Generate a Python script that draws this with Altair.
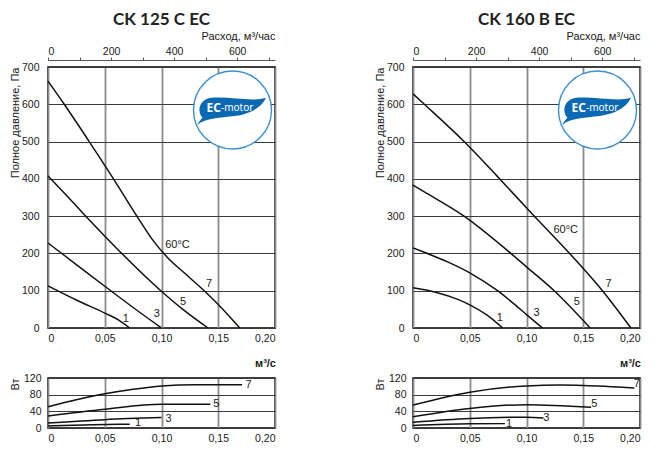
import altair as alt
import pandas as pd

# ---------------- CK 125 C EC : total pressure (Pa) vs airflow (m3/s) ----------------
L_P1_Q = [0, 0.025, 0.05, 0.062, 0.072]
L_P1_V = [113, 75, 40, 22, 0]
L_P3_Q = [0, 0.025, 0.05, 0.075, 0.10]
L_P3_V = [228, 170, 112, 55, 0]
L_P5_Q = [0, 0.0143, 0.0333, 0.065, 0.0994, 0.118, 0.141]
L_P5_V = [408, 362, 300, 200, 100, 52, 0]
L_P7_Q = [0, 0.0143, 0.0363, 0.0577, 0.0783, 0.092, 0.105, 0.12, 0.1376, 0.15, 0.169]
L_P7_V = [662, 600, 500, 400, 300, 237, 190, 148, 100, 63, 0]

# CK 125 C EC : power input (W)
L_W1_Q = [0, 0.04, 0.072]
L_W1_V = [5, 8, 9]
L_W3_Q = [0, 0.05, 0.10]
L_W3_V = [12, 20, 25]
L_W5_Q = [0, 0.05, 0.10, 0.143]
L_W5_V = [29, 45, 57, 57]
L_W7_Q = [0, 0.025, 0.05, 0.075, 0.10, 0.13, 0.171]
L_W7_V = [51, 68, 82, 93, 101, 104, 104]

L_PLBL_T = ["1", "3", "5", "7", "60°C"]
L_PLBL_Q = [0.0685, 0.0959, 0.119, 0.142, 0.1141]
L_PLBL_V = [25, 38, 70, 117, 222]
L_WLBL_T = ["1", "3", "5", "7"]
L_WLBL_Q = [0.0767, 0.1035, 0.1456, 0.174]
L_WLBL_V = [12, 22, 57, 103]

# ---------------- CK 160 B EC ----------------
R_P1_Q = [0, 0.02, 0.04, 0.05, 0.065, 0.079]
R_P1_V = [108, 96, 76, 62, 35, 0]
R_P3_Q = [0, 0.01, 0.03, 0.05, 0.0745, 0.09, 0.10, 0.114]
R_P3_V = [215, 203, 178, 148, 100, 62, 36, 0]
R_P5_Q = [0, 0.01, 0.045, 0.0862, 0.10, 0.1244, 0.15, 0.156]
R_P5_V = [383, 365, 300, 200, 164, 100, 20, 0]
R_P7_Q = [0, 0.01, 0.045, 0.0745, 0.1038, 0.138, 0.168, 0.192]
R_P7_V = [628, 600, 500, 406, 310, 200, 96, 0]

R_W1_Q = [0, 0.05, 0.081]
R_W1_V = [6, 10, 10.5]
R_W3_Q = [0, 0.05, 0.10, 0.115]
R_W3_V = [14, 23, 26, 24]
R_W5_Q = [0, 0.05, 0.10, 0.157]
R_W5_V = [27, 47, 56, 50]
R_W7_Q = [0, 0.05, 0.10, 0.13, 0.15, 0.195]
R_W7_V = [55, 86, 101, 103, 102, 96]

R_PLBL_T = ["1", "3", "5", "7", "60°C"]
R_PLBL_Q = [0.0765, 0.1088, 0.1444, 0.1722, 0.1346]
R_PLBL_V = [27, 41, 70, 117, 262]
R_WLBL_T = ["1", "3", "5", "7"]
R_WLBL_Q = [0.082, 0.1148, 0.157, 0.1945]
R_WLBL_V = [10.5, 23, 57, 105]

# ticks
X_TICKS = [0, 0.05, 0.10, 0.15, 0.20]
P_TICKS = [0, 100, 200, 300, 400, 500, 600, 700]
W_TICKS = [0, 40, 80, 120]
FLOW_H_TICKS = [0, 100, 200, 300, 400, 500, 600, 700]
FLOW_UNIT = "м³/с"

FONT = "Liberation Sans"
TXT = "#1a1a1a"
VGRID = "#8c8c8c"
HGRID = "#3a3a3a"
BLUE = "#0b69b3"
BLUE_LIGHT = "#3d8fd4"
XLBL = "datum.value == 0 ? '0' : replace(format(datum.value, '.2f'), '.', ',')"
LEAF = ("M -0.95 0.42 C -0.9 0.34 -0.85 0.28 -0.8 0.22 C -0.97 0.02 -0.88 -0.3 -0.55 -0.34 "
        "C 0 -0.38 0.6 -0.22 0.98 -0.34 C 0.85 -0.05 0.5 0.12 0.1 0.17 C -0.3 0.22 -0.7 0.22 -0.95 0.42 Z")

W_MAIN, H_MAIN = 227, 261


def to_df(series):
    rows = []
    for name, qs, vs in series:
        for q, v in zip(qs, vs):
            rows.append({"s": name, "q": q, "v": v})
    return pd.DataFrame(rows)


def logo_layers():
    one = pd.DataFrame({"k": [0]})
    circ = alt.Chart(one).mark_circle(size=6084, color="white", opacity=1,
                                      stroke=BLUE_LIGHT, strokeWidth=1.4).encode(
        x=alt.value(184.5), y=alt.value(43))
    leaf = alt.Chart(one).mark_point(shape=LEAF, size=5100, filled=True, color=BLUE,
                                     opacity=1).encode(x=alt.value(183), y=alt.value(43))
    ec = alt.Chart(one).mark_text(text="EC", font="Noto Sans", fontWeight="bold", fontSize=12,
                                  color="white", align="right", baseline="middle").encode(
        x=alt.value(173), y=alt.value(40.5))
    motor = alt.Chart(one).mark_text(text="-motor", font="Noto Sans", fontSize=10,
                                     color="white", align="left", baseline="middle").encode(
        x=alt.value(173), y=alt.value(40.5))
    return [circ, leaf, ec, motor]


def pressure_chart(title, series, lt, lq, lv):
    xs = alt.Scale(domain=[0, 0.2], nice=False)
    ys = alt.Scale(domain=[0, 700], nice=False)
    xax = alt.Axis(values=X_TICKS, labelExpr=XLBL, ticks=False, domain=False, grid=True,
                   gridColor=VGRID, gridWidth=1.8, labelPadding=5, labelOverlap=False)
    yax = alt.Axis(values=P_TICKS, ticks=False, domain=False, grid=True, gridColor=HGRID,
                   gridWidth=1, labelPadding=9, labelOverlap=False,
                   titleAnchor="end", titlePadding=1)
    X = alt.X("q:Q", scale=xs, axis=xax, title=None)
    Y = alt.Y("v:Q", scale=ys, axis=yax, title="Полное давление, Па")
    lines = alt.Chart(to_df(series)).mark_line(color="#111", strokeWidth=1.5,
                                               interpolate="monotone").encode(
        x=X, y=Y, detail="s:N")
    labels = alt.Chart(pd.DataFrame({"t": lt, "q": lq, "v": lv})).mark_text(
        font=FONT, fontSize=11, color=TXT).encode(x=X, y=Y, text="t:N")
    unit = alt.Chart(pd.DataFrame({"k": [0]})).mark_text(
        text=FLOW_UNIT, font=FONT, fontSize=11, fontWeight="bold", color=TXT,
        align="right", baseline="middle").encode(
        x=alt.value(W_MAIN + 1), y=alt.value(H_MAIN + 36))
    inner = alt.layer(lines, labels, unit, *logo_layers())
    top = alt.Chart(pd.DataFrame({"h": [0]})).mark_point(opacity=0).encode(
        x=alt.X("h:Q", scale=alt.Scale(domain=[0, 720], nice=False), title="Расход, м³/час",
                axis=alt.Axis(orient="top", values=FLOW_H_TICKS,
                              labelExpr="datum.value % 200 == 0 ? datum.label : ''",
                              labelOverlap=False,
                              titleAnchor="end", offset=7, tickSize=3, labelPadding=1,
                              domainColor="#555", tickColor="#555", grid=False,
                              titlePadding=5)))
    return alt.layer(inner, top).resolve_scale(x="independent").properties(
        width=W_MAIN, height=H_MAIN,
        title=alt.Title(title, font="Lato", fontSize=17, fontWeight="bold", color="#222",
                        anchor="middle", frame="group", offset=1))


def power_chart(series, lt, lq, lv):
    xs = alt.Scale(domain=[0, 0.2], nice=False)
    ys = alt.Scale(domain=[0, 120], nice=False)
    xax = alt.Axis(values=X_TICKS, labelExpr=XLBL, ticks=False, domain=False, grid=True,
                   gridColor=VGRID, gridWidth=1.8, labelPadding=5, labelOverlap=False)
    yax = alt.Axis(values=W_TICKS, ticks=False, domain=False, grid=True, gridColor=HGRID,
                   gridWidth=1, labelPadding=7, labelOverlap=False,
                   titleAnchor="end", titlePadding=3)
    X = alt.X("q:Q", scale=xs, axis=xax, title=None)
    Y = alt.Y("v:Q", scale=ys, axis=yax, title="Вт")
    lines = alt.Chart(to_df(series)).mark_line(color="#111", strokeWidth=1.5,
                                               interpolate="monotone").encode(
        x=X, y=Y, detail="s:N")
    labels = alt.Chart(pd.DataFrame({"t": lt, "q": lq, "v": lv})).mark_text(
        font=FONT, fontSize=11, color=TXT, align="left", baseline="middle").encode(
        x=X, y=Y, text="t:N")
    return alt.layer(lines, labels).properties(width=W_MAIN, height=50)


left_main = pressure_chart("CK 125 C EC",
                           [("1", L_P1_Q, L_P1_V), ("3", L_P3_Q, L_P3_V),
                            ("5", L_P5_Q, L_P5_V), ("7", L_P7_Q, L_P7_V)],
                           L_PLBL_T, L_PLBL_Q, L_PLBL_V)
right_main = pressure_chart("CK 160 B EC",
                            [("1", R_P1_Q, R_P1_V), ("3", R_P3_Q, R_P3_V),
                             ("5", R_P5_Q, R_P5_V), ("7", R_P7_Q, R_P7_V)],
                            R_PLBL_T, R_PLBL_Q, R_PLBL_V)
left_pow = power_chart([("1", L_W1_Q, L_W1_V), ("3", L_W3_Q, L_W3_V),
                        ("5", L_W5_Q, L_W5_V), ("7", L_W7_Q, L_W7_V)],
                       L_WLBL_T, L_WLBL_Q, L_WLBL_V)
right_pow = power_chart([("1", R_W1_Q, R_W1_V), ("3", R_W3_Q, R_W3_V),
                         ("5", R_W5_Q, R_W5_V), ("7", R_W7_Q, R_W7_V)],
                        R_WLBL_T, R_WLBL_Q, R_WLBL_V)

chart = alt.concat(left_main, right_main, left_pow, right_pow, columns=2,
                   spacing={"row": 50, "column": 138}, bounds="flush").properties(
    padding={"left": 0, "top": 2, "right": 2, "bottom": 2},
    background="white"
).configure_view(stroke="black", strokeWidth=1.5).configure_axis(
    labelFont=FONT, titleFont=FONT, labelColor=TXT, titleColor=TXT,
    labelFontSize=10.5, titleFontSize=11, titleFontWeight="normal"
)

chart.save("out.html", embed_options={"renderer": "svg", "actions": False})
